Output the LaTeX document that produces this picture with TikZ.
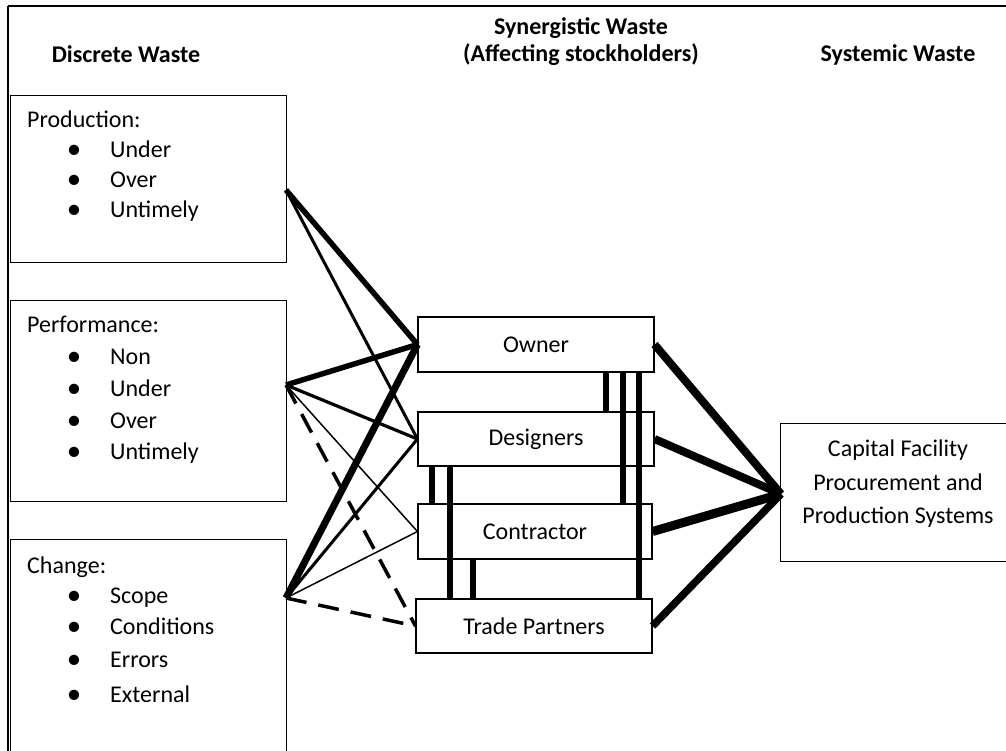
\documentclass[tikz,border=0pt]{standalone}
\usepackage{fontspec}
\setmainfont{Carlito}
\usetikzlibrary{positioning}

\begin{document}
\begin{tikzpicture}[x=1pt,y=-1pt,
  every node/.style={font=\fontsize{24}{29}\selectfont,inner sep=0pt},
  hdr/.style={font=\fontsize{24}{27}\selectfont\bfseries,anchor=base},
  wastebox/.style={rectangle,draw,line width=1.1pt,anchor=north west,minimum width=276pt},
  stakebox/.style={rectangle,draw,line width=1.1pt,minimum height=55pt},
  itm/.style={anchor=base west},
  bul/.style={anchor=base,font=\fontsize{29}{29}\selectfont,yshift=-1.5pt},
  frame/.style={line width=2.5pt},
  dashline/.style={line width=3.5pt,dash pattern=on 21pt off 12pt},
  bar/.style={line width=6pt}]
\useasboundingbox (0,0) rectangle (1006,750);
\clip (0,0) rectangle (1006,750);
% outer frame
\draw[frame] (8,6) -- (1012,6);
\draw[frame] (8,6) -- (8,760);
% column headings
\node[hdr] (hdisc) at (126,62) {Discrete Waste};
\node[hdr] (hsyn1) at (581,34) {Synergistic Waste};
\node[hdr] (hsyn2) at (581,61) {(Affecting stockholders)};
\node[hdr] (hsys) at (898,61) {Systemic Waste};
% discrete waste boxes
\node[wastebox,minimum height=167pt] (prod) at (10,95) {};
\node[wastebox,minimum height=201pt] (perf) at (10,300) {};
\node[wastebox,minimum height=230pt] (chg) at (10,539) {};
\node[itm] (prodt) at (27,127) {Production:};
\foreach \txt/\yy [count=\k] in {Under/157,Over/187,Untimely/217}{
  \node[bul] (prodb\k) at (74,\yy) {•};
  \node[itm] (prodi\k) at (110,\yy) {\txt};
}
\node[itm] (perft) at (27,332) {Performance:};
\foreach \txt/\yy [count=\k] in {Non/364,Under/396,Over/428,Untimely/459}{
  \node[bul] (perfb\k) at (74,\yy) {•};
  \node[itm] (perfi\k) at (110,\yy) {\txt};
}
\node[itm] (chgt) at (27,573) {Change:};
\foreach \txt/\yy [count=\k] in {Scope/603,Conditions/634,Errors/667,External/702}{
  \node[bul] (chgb\k) at (74,\yy) {•};
  \node[itm] (chgi\k) at (110,\yy) {\txt};
}
% stakeholders
\node[stakebox,minimum width=236pt] (owner) at (536,344.5) {Owner};
\node[stakebox,minimum width=236pt,minimum height=54pt] (designers) at (536,439) {Designers};
\node[stakebox,minimum width=234pt] (contractor) at (535,531.5) {Contractor};
\node[stakebox,minimum width=236pt,minimum height=54pt] (trade) at (534,626) {Trade Partners};
% systemic waste
\node[rectangle,draw,line width=1.1pt,anchor=north west,minimum width=236pt,minimum height=138pt] (capital) at (780,423) {};
\node[align=center,font=\fontsize{24}{33.5}\selectfont] (capt) at (898,484) {Capital Facility\\Procurement and\\Production Systems};
\coordinate (prodhub) at (286,190);
\coordinate (perfhub) at (286,385);
\coordinate (chghub) at (286,598);
\coordinate (caphub) at (781,494);
% discrete -> synergistic
\draw[line width=5.5pt] (prodhub) -- (owner.west);
\draw[line width=3pt] (prodhub) -- (designers.west);
\draw[line width=5.5pt] (perfhub) -- (owner.west);
\draw[line width=3.2pt] (perfhub) -- (designers.west);
\draw[line width=1.5pt] (perfhub) -- (contractor.west);
\draw[dashline] (perfhub) -- (trade.west);
\draw[line width=7pt] (chghub) -- (owner.west);
\draw[line width=3pt] (chghub) -- (designers.west);
\draw[line width=1.5pt] (chghub) -- (contractor.west);
\draw[dashline] (chghub) -- (trade.west);
% synergistic -> systemic
\draw[line width=8pt] (owner.east) -- (caphub);
\draw[line width=8pt] (designers.east) -- (caphub);
\draw[line width=9pt] (contractor.east) -- (caphub);
\draw[line width=7.5pt] (trade.east) -- (caphub);
% links between stakeholders
\foreach \xb/\ta/\tb in {606/owner/designers,623/owner/contractor,639/owner/trade,
    432/designers/contractor,450/designers/trade,473/contractor/trade}{
  \path (\xb,0) coordinate (bx);
  \draw[bar] (\ta.south -| bx) -- (\tb.north -| bx);
}
\end{tikzpicture}
\end{document}
